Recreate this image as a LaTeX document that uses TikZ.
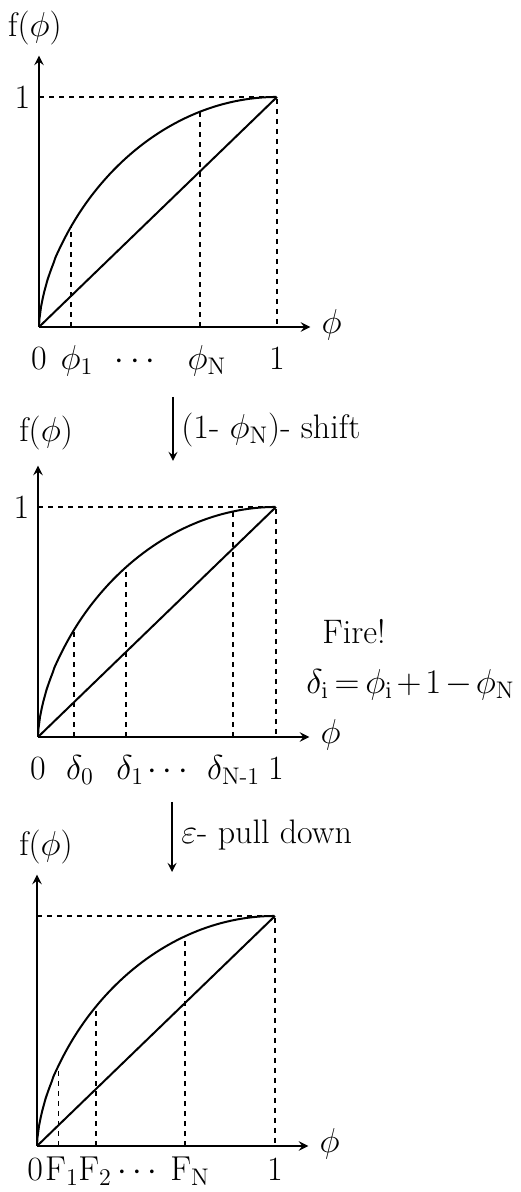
\documentclass[tikz,border=0pt]{standalone}
\usepackage{amsmath}
\usetikzlibrary{arrows, positioning}
\tikzstyle{axis} = [line width=1.1pt, ->, >=stealth]
\tikzstyle{curve} = [line width=1pt]
\tikzstyle{guide} = [line width=0.9pt, dash pattern=on 2.5pt off 2.5pt]
\tikzstyle{arrow} = [line width=1pt, ->, >=stealth]
\tikzstyle{tick} = [anchor=base, inner sep=0pt]
\tikzset{declare function={ff(\x)=(\x*(2-\x))^0.6;}}

\begin{document}
\begin{tikzpicture}[x=0.5pt, y=0.5pt, every node/.style={font=\fontsize{17}{20}\selectfont}]
\useasboundingbox (0,0) rectangle (520,1192);

% top panel
\begin{scope}[shift={(19.5pt,432.5pt)}, x=119pt, y=115pt]
  \coordinate (o1) at (0,0);
  \coordinate (top1) at (1,1);
  \coordinate (ytip1) at (0,1.18);
  \coordinate (xtip1) at (1.14,0);
  \draw[axis] (o1) -- (ytip1);
  \draw[axis] (o1) -- (xtip1);
  \draw[guide] (0,1) -- (top1) -- (1,0);
  \foreach \p in {0.134,0.676}
    \draw[guide] (\p,0) -- (\p,{ff(\p)});
  \draw[curve] (o1) -- plot[domain=0.002:1, samples=150] (\x,{ff(\x)});
  \draw[curve] (o1) -- (top1);
  \node (fy1) at (-0.017,1.30) {f($\phi$)};
  \node (one1) at (-0.07,1) {1};
  \node (fx1) at (1.23,0.01) {$\phi$};
  \node[tick] (z1) at (0,-0.183) {0};
  \node[tick] (p1) at (0.16,-0.183) {$\phi_1$};
  \node[tick] (dots1) at (0.416,-0.183) {$\cdots$};
  \node[tick] (pN) at (0.706,-0.183) {$\phi_{\mathrm{N}}$};
  \node[tick] (u1) at (1,-0.183) {1};
\end{scope}

% shift arrow
\coordinate (s1) at (173,795);
\coordinate (e1) at (173,731);
\draw[arrow] (s1) -- (e1);
\node[anchor=west, inner sep=0pt] (shift) at (181,762) {(1- $\phi_{\mathrm{N}}$)- shift};

% middle panel
\begin{scope}[shift={(19pt,227.5pt)}, x=119pt, y=115pt]
  \coordinate (o2) at (0,0);
  \coordinate (top2) at (1,1);
  \coordinate (ytip2) at (0,1.18);
  \coordinate (xtip2) at (1.14,0);
  \draw[axis] (o2) -- (ytip2);
  \draw[axis] (o2) -- (xtip2);
  \draw[guide] (0,1) -- (top2) -- (1,0);
  \foreach \p in {0.151,0.37,0.818}
    \draw[guide] (\p,0) -- (\p,{ff(\p)});
  \draw[curve] (o2) -- plot[domain=0.002:1, samples=150] (\x,{ff(\x)});
  \draw[curve] (o2) -- (top2);
  \node (fy2) at (0.034,1.32) {f($\phi$)};
  \node (one2) at (-0.07,1) {1};
  \node (fx2) at (1.23,0.01) {$\phi$};
  \node[tick] (z2) at (0,-0.183) {0};
  \node[tick] (d0) at (0.176,-0.183) {$\delta_0$};
  \node[tick] (d1) at (0.388,-0.183) {$\delta_1$};
  \node[tick] (dots2) at (0.557,-0.183) {$\cdots$};
  \node[tick] (dN) at (0.822,-0.183) {$\delta_{\mathrm{N}\textrm{-}1}$};
  \node[tick] (u2) at (1,-0.183) {1};
\end{scope}

\node (fire) at (354,560) {Fire!};
\node[anchor=west, inner sep=0pt] (rule) at (306,507)
  {$\medmuskip=2mu \thickmuskip=3mu \delta_{\mathrm{i}} = \phi_{\mathrm{i}} + 1 - \phi_{\mathrm{N}}$};

% pull-down arrow
\coordinate (s2) at (172,390);
\coordinate (e2) at (172,320);
\draw[arrow] (s2) -- (e2);
\node[anchor=west, inner sep=0pt] (pull) at (181,357) {$\varepsilon$- pull down};

% bottom panel
\begin{scope}[shift={(18.5pt,23pt)}, x=119pt, y=115pt]
  \coordinate (o3) at (0,0);
  \coordinate (top3) at (1,1);
  \coordinate (ytip3) at (0,1.18);
  \coordinate (xtip3) at (1.14,0);
  \draw[axis] (o3) -- (ytip3);
  \draw[axis] (o3) -- (xtip3);
  \draw[guide] (0,1) -- (top3) -- (1,0);
  \foreach \p in {0.09,0.248,0.622}
    \draw[guide] (\p,0) -- (\p,{ff(\p)});
  \draw[curve] (o3) -- plot[domain=0.002:1, samples=150] (\x,{ff(\x)});
  \draw[curve] (o3) -- (top3);
  \node (fy3) at (0.038,1.30) {f($\phi$)};
  \node (fx3) at (1.23,0.01) {$\phi$};
  \node[tick] (z3) at (-0.008,-0.15) {0};
  \node[tick] (F1) at (0.105,-0.15) {$\mathrm{F}_1$};
  \node[tick] (F2) at (0.244,-0.15) {$\mathrm{F}_2$};
  \node[tick] (dots3) at (0.433,-0.15) {$\cdots$};
  \node[tick] (FN) at (0.643,-0.15) {$\mathrm{F}_{\mathrm{N}}$};
  \node[tick] (u3) at (1,-0.15) {1};
\end{scope}
\end{tikzpicture}
\end{document}
